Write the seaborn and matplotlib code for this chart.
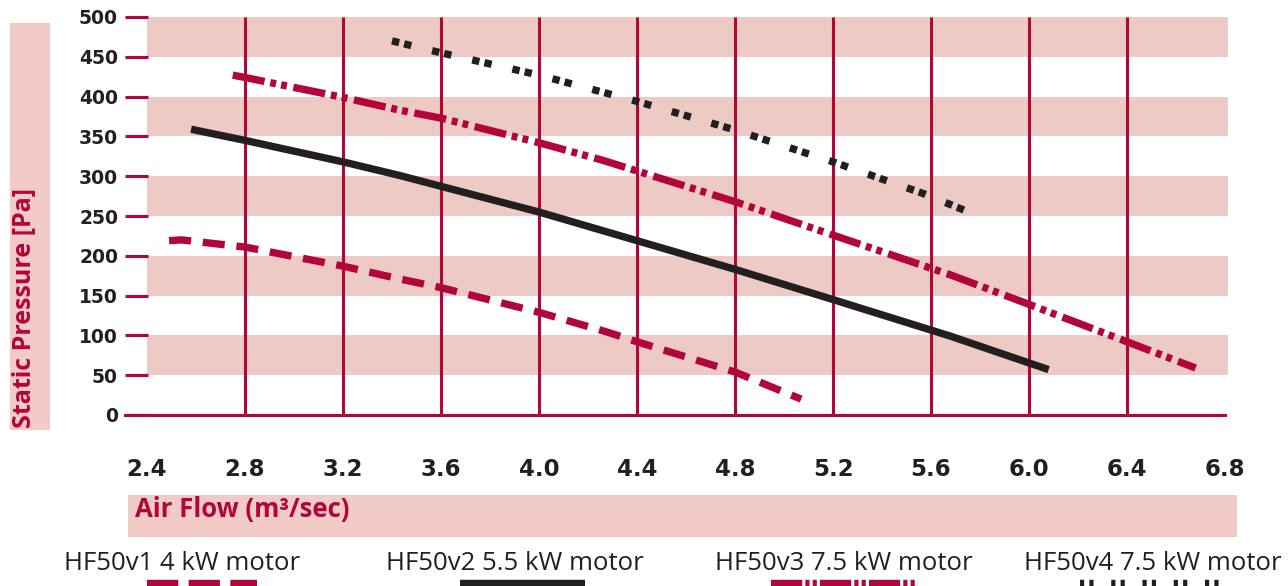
import numpy as np
import pandas as pd
import matplotlib.pyplot as plt
from matplotlib.lines import Line2D
from matplotlib.patches import Rectangle
import seaborn as sns


# DATA

models = ["HF50v1 4 kW motor", "HF50v2 5.5 kW motor",
          "HF50v3 7.5 kW motor", "HF50v4 7.5 kW motor"]

v1_flow = [2.49, 2.54, 2.8, 3.2, 3.43, 3.6, 4.0, 4.28, 4.4, 4.8, 5.07]
v1_pressure = [219, 220, 211, 187, 171, 160, 129, 104, 92, 54, 20]

v2_flow = [2.58, 2.8, 3.2, 3.43, 4.0, 4.4, 4.8, 5.2, 5.68, 6.08]
v2_pressure = [359, 345, 318, 301, 255, 219, 183, 145, 99, 57]

v3_flow = [2.75, 2.8, 3.2, 3.43, 3.6, 4.0, 4.26, 4.8, 5.2, 5.68, 6.0, 6.4, 6.68]
v3_pressure = [427, 424, 399, 383, 373, 342, 320, 268, 226, 176, 139, 92, 59]

v4_flow = [3.40, 3.6, 4.0, 4.4, 4.79, 5.2, 5.57, 5.77]
v4_pressure = [470, 455, 427, 394, 359, 318, 278, 253]

x_ticks = [2.4, 2.8, 3.2, 3.6, 4.0, 4.4, 4.8, 5.2, 5.6, 6.0, 6.4, 6.8]
y_ticks = [0, 50, 100, 150, 200, 250, 300, 350, 400, 450, 500]
bands = [(50, 100), (150, 200), (250, 300), (350, 400), (450, 500)]

# STYLE

CRIMSON = "#B2053B"
DARK = "#231F20"
BAND = "#EDCAC4"
BOX = "#F2CBC7"

colors = {models[0]: CRIMSON, models[1]: DARK, models[2]: CRIMSON, models[3]: DARK}
dashes = {models[0]: (3, 1.6),
          models[1]: "",
          models[2]: (4.4, 0.8, 0.8, 0.7, 0.8, 0.9),
          models[3]: (1, 0.7, 1, 2.9)}
legend_dashes = {models[0]: (3, 1.0),
                 models[1]: "",
                 models[2]: (3.0, 0.3, 0.4, 0.3, 0.4, 0.3),
                 models[3]: (0.4, 0.5, 0.4, 1.7)}

sns.set_style("white")
plt.rcParams["font.family"] = ["DejaVu Sans"]

df = pd.concat([
    pd.DataFrame({"flow": f, "pressure": p, "model": m})
    for f, p, m in zip([v1_flow, v2_flow, v3_flow, v4_flow],
                       [v1_pressure, v2_pressure, v3_pressure, v4_pressure],
                       models)
])

W, H = 1288, 586
fig = plt.figure(figsize=(W / 100, H / 100), dpi=100)
ax = fig.add_axes([125 / W, 1 - 415 / H, (1228 - 125) / W, (415 - 17) / H])
ax.set_facecolor("none")

# pink horizontal bands
for lo, hi in bands:
    ax.axhspan(lo, hi, xmin=22 / 1103, xmax=1, color=BAND, lw=0, zorder=0)

# vertical grid lines (inner ticks only)
for xv in x_ticks[1:-1]:
    ax.axvline(xv, color=CRIMSON, lw=2.2, zorder=1)

sns.lineplot(data=df, x="flow", y="pressure", hue="model", style="model",
             palette=colors, dashes=dashes, linewidth=5.3, sort=False,
             estimator=None, legend=False, ax=ax, zorder=3)
for line in ax.get_lines():
    line.set_dash_capstyle("butt")
    line.set_solid_capstyle("butt")

ax.set_xlim(2.4 - 22 / 245, 6.8 + 3 / 245)
ax.set_ylim(0, 500)
ax.set_xticks(x_ticks)
ax.set_xticklabels([f"{v:.1f}" for v in x_ticks])
ax.set_yticks(y_ticks)
ax.set_xlabel("")
ax.set_ylabel("")

for s in ["top", "right", "left"]:
    ax.spines[s].set_visible(False)
ax.spines["bottom"].set_color(CRIMSON)
ax.spines["bottom"].set_linewidth(2.2)
ax.spines["bottom"].set_bounds(2.4 - 22 / 245, 6.8)
ax.spines["bottom"].set_zorder(2)

ax.tick_params(axis="x", direction="out", length=25, width=2.2, color=CRIMSON,
               pad=6, labelsize=16.5, labelcolor=DARK)
ax.tick_params(axis="y", direction="in", length=16.5, width=2.2, color=CRIMSON,
               pad=5, labelsize=13.5, labelcolor=DARK, left=True)
for lab in ax.get_xticklabels() + ax.get_yticklabels():
    lab.set_fontweight("bold")

# axis title boxes
fig.patches.append(Rectangle((10 / W, 1 - 430 / H), 40 / W, 407 / H,
                             transform=fig.transFigure, color=BOX, lw=0, zorder=0))
fig.text(24 / W, 1 - 428 / H, "Static Pressure [Pa]", rotation=90,
         rotation_mode="anchor", ha="left", va="center", color=CRIMSON,
         fontsize=18, fontweight="bold", family=["Open Sans", "DejaVu Sans"])

fig.patches.append(Rectangle((128 / W, 1 - 537 / H), 1109 / W, 42 / H,
                             transform=fig.transFigure, color=BOX, lw=0, zorder=0))
fig.text(135 / W, 1 - 509 / H, "Air Flow (m³/sec)", ha="left", va="center",
         color=CRIMSON, fontsize=18.5, fontweight="bold",
         family=["Open Sans", "DejaVu Sans"])

# legend: label text with a line sample underneath
legend_text_x = [182, 515, 844, 1153]
legend_line_x = [(147, 257), (460, 585), (771, 918), (1080, 1225)]
for m, tx, (x0, x1) in zip(models, legend_text_x, legend_line_x):
    fig.text(tx / W, 1 - 564 / H, m, ha="center", va="center", color=DARK,
             fontsize=18.5, family=["Open Sans", "DejaVu Sans"])
    ln = Line2D([x0 / W, x1 / W], [1 - 585 / H, 1 - 585 / H],
                transform=fig.transFigure, color=colors[m], lw=7.5,
                solid_capstyle="butt", dash_capstyle="butt")
    if legend_dashes[m]:
        ln.set_dashes(legend_dashes[m])
    fig.add_artist(ln)

fig.savefig("out.png", dpi=100)
